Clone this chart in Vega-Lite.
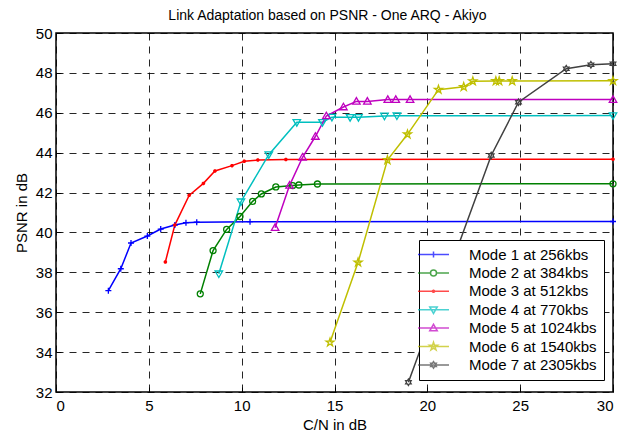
{
  "$schema": "https://vega.github.io/schema/vega-lite/v6.json",
  "width": 557,
  "height": 359,
  "autosize": {"type": "none"},
  "padding": {"left": 56, "top": 33, "right": 15, "bottom": 42},
  "background": "white",
  "title": {"text": "Link Adaptation based on PSNR - One ARQ - Akiyo", "font": "Liberation Sans", "fontSize": 14, "fontWeight": "normal", "color": "#000", "offset": 3, "dx": -7},
  "config": {
    "view": {"stroke": "#000", "strokeWidth": 1.5},
    "axis": {"labelFont": "Liberation Sans", "titleFont": "Liberation Sans", "labelFontSize": 15, "titleFontSize": 15, "titleFontWeight": "normal", "labelColor": "#000", "titleColor": "#000", "grid": true, "gridColor": "#000", "gridDash": [7, 6], "gridWidth": 1, "gridOpacity": 0.85, "domain": false, "ticks": true, "tickSize": -5, "tickColor": "#000", "tickWidth": 1},
    "legend": {"labelFont": "Liberation Sans"}
  },
  "datasets": {
    "curves": [
      {"mode": "Mode 1 at 256kbs", "x": 2.82, "y": 37.08},
      {"mode": "Mode 1 at 256kbs", "x": 3.49, "y": 38.18},
      {"mode": "Mode 1 at 256kbs", "x": 4.04, "y": 39.47},
      {"mode": "Mode 1 at 256kbs", "x": 4.92, "y": 39.82},
      {"mode": "Mode 1 at 256kbs", "x": 5.64, "y": 40.17},
      {"mode": "Mode 1 at 256kbs", "x": 6.40, "y": 40.37},
      {"mode": "Mode 1 at 256kbs", "x": 7.00, "y": 40.49},
      {"mode": "Mode 1 at 256kbs", "x": 7.58, "y": 40.51},
      {"mode": "Mode 1 at 256kbs", "x": 10.45, "y": 40.54},
      {"mode": "Mode 1 at 256kbs", "x": 30, "y": 40.55},
      {"mode": "Mode 2 at 384kbs", "x": 7.77, "y": 36.92},
      {"mode": "Mode 2 at 384kbs", "x": 8.46, "y": 39.09},
      {"mode": "Mode 2 at 384kbs", "x": 9.19, "y": 40.15},
      {"mode": "Mode 2 at 384kbs", "x": 9.91, "y": 40.80},
      {"mode": "Mode 2 at 384kbs", "x": 10.59, "y": 41.56},
      {"mode": "Mode 2 at 384kbs", "x": 11.06, "y": 41.93},
      {"mode": "Mode 2 at 384kbs", "x": 11.84, "y": 42.28},
      {"mode": "Mode 2 at 384kbs", "x": 12.75, "y": 42.35},
      {"mode": "Mode 2 at 384kbs", "x": 13.08, "y": 42.38},
      {"mode": "Mode 2 at 384kbs", "x": 14.08, "y": 42.43},
      {"mode": "Mode 2 at 384kbs", "x": 30, "y": 42.44},
      {"mode": "Mode 3 at 512kbs", "x": 5.89, "y": 38.52},
      {"mode": "Mode 3 at 512kbs", "x": 6.40, "y": 40.37},
      {"mode": "Mode 3 at 512kbs", "x": 7.17, "y": 41.86},
      {"mode": "Mode 3 at 512kbs", "x": 7.94, "y": 42.46},
      {"mode": "Mode 3 at 512kbs", "x": 8.56, "y": 43.08},
      {"mode": "Mode 3 at 512kbs", "x": 9.48, "y": 43.35},
      {"mode": "Mode 3 at 512kbs", "x": 10.14, "y": 43.57},
      {"mode": "Mode 3 at 512kbs", "x": 10.87, "y": 43.63},
      {"mode": "Mode 3 at 512kbs", "x": 12.38, "y": 43.66},
      {"mode": "Mode 3 at 512kbs", "x": 30, "y": 43.67},
      {"mode": "Mode 4 at 770kbs", "x": 8.77, "y": 37.93},
      {"mode": "Mode 4 at 770kbs", "x": 9.96, "y": 41.54},
      {"mode": "Mode 4 at 770kbs", "x": 11.46, "y": 43.90},
      {"mode": "Mode 4 at 770kbs", "x": 12.97, "y": 45.52},
      {"mode": "Mode 4 at 770kbs", "x": 14.35, "y": 45.52},
      {"mode": "Mode 4 at 770kbs", "x": 14.86, "y": 45.78},
      {"mode": "Mode 4 at 770kbs", "x": 15.84, "y": 45.77},
      {"mode": "Mode 4 at 770kbs", "x": 16.29, "y": 45.77},
      {"mode": "Mode 4 at 770kbs", "x": 17.69, "y": 45.84},
      {"mode": "Mode 4 at 770kbs", "x": 18.36, "y": 45.85},
      {"mode": "Mode 4 at 770kbs", "x": 30, "y": 45.86},
      {"mode": "Mode 5 at 1024kbs", "x": 11.80, "y": 40.24},
      {"mode": "Mode 5 at 1024kbs", "x": 12.58, "y": 42.36},
      {"mode": "Mode 5 at 1024kbs", "x": 13.28, "y": 43.77},
      {"mode": "Mode 5 at 1024kbs", "x": 13.97, "y": 44.81},
      {"mode": "Mode 5 at 1024kbs", "x": 14.56, "y": 45.84},
      {"mode": "Mode 5 at 1024kbs", "x": 15.48, "y": 46.29},
      {"mode": "Mode 5 at 1024kbs", "x": 16.18, "y": 46.57},
      {"mode": "Mode 5 at 1024kbs", "x": 16.77, "y": 46.57},
      {"mode": "Mode 5 at 1024kbs", "x": 17.87, "y": 46.66},
      {"mode": "Mode 5 at 1024kbs", "x": 18.30, "y": 46.66},
      {"mode": "Mode 5 at 1024kbs", "x": 19.07, "y": 46.66},
      {"mode": "Mode 5 at 1024kbs", "x": 30, "y": 46.66},
      {"mode": "Mode 6 at 1540kbs", "x": 14.76, "y": 34.49},
      {"mode": "Mode 6 at 1540kbs", "x": 16.27, "y": 38.50},
      {"mode": "Mode 6 at 1540kbs", "x": 17.85, "y": 43.63},
      {"mode": "Mode 6 at 1540kbs", "x": 18.93, "y": 44.92},
      {"mode": "Mode 6 at 1540kbs", "x": 20.60, "y": 47.16},
      {"mode": "Mode 6 at 1540kbs", "x": 21.96, "y": 47.30},
      {"mode": "Mode 6 at 1540kbs", "x": 22.45, "y": 47.58},
      {"mode": "Mode 6 at 1540kbs", "x": 23.69, "y": 47.59},
      {"mode": "Mode 6 at 1540kbs", "x": 23.87, "y": 47.59},
      {"mode": "Mode 6 at 1540kbs", "x": 24.57, "y": 47.59},
      {"mode": "Mode 6 at 1540kbs", "x": 30, "y": 47.60},
      {"mode": "Mode 7 at 2305kbs", "x": 18.98, "y": 32.49},
      {"mode": "Mode 7 at 2305kbs", "x": 23.44, "y": 43.86},
      {"mode": "Mode 7 at 2305kbs", "x": 24.91, "y": 46.53},
      {"mode": "Mode 7 at 2305kbs", "x": 27.48, "y": 48.21},
      {"mode": "Mode 7 at 2305kbs", "x": 28.81, "y": 48.41},
      {"mode": "Mode 7 at 2305kbs", "x": 30, "y": 48.46}
    ]
  },
  "data": {"name": "curves"},
  "encoding": {
    "x": {"field": "x", "type": "quantitative", "scale": {"domain": [0, 30], "nice": false, "zero": false}, "axis": {"values": [0, 5, 10, 15, 20, 25, 30], "title": "C/N in dB", "labelPadding": 11, "titlePadding": 4}},
    "y": {"field": "y", "type": "quantitative", "scale": {"domain": [32, 50], "nice": false, "zero": false}, "axis": {"values": [32, 34, 36, 38, 40, 42, 44, 46, 48, 50], "title": "PSNR in dB", "labelPadding": 9, "titlePadding": 6}}
  },
  "layer": [
    {
      "mark": {"type": "line", "strokeWidth": 1.5, "clip": false},
      "encoding": {
        "color": {"field": "mode", "type": "nominal", "legend": null,
          "scale": {"domain": ["Mode 1 at 256kbs", "Mode 2 at 384kbs", "Mode 3 at 512kbs", "Mode 4 at 770kbs", "Mode 5 at 1024kbs", "Mode 6 at 1540kbs", "Mode 7 at 2305kbs"],
                    "range": ["#0000ff", "#008000", "#ff0000", "#00bfbf", "#bf00bf", "#bfbf00", "#404040"]}}
      }
    },
    {
      "mark": {"type": "point", "filled": false, "size": 100, "strokeWidth": 1.3, "opacity": 1},
      "encoding": {
        "color": {"field": "mode", "type": "nominal", "legend": null,
          "scale": {"domain": ["Mode 1 at 256kbs", "Mode 2 at 384kbs", "Mode 3 at 512kbs", "Mode 4 at 770kbs", "Mode 5 at 1024kbs", "Mode 6 at 1540kbs", "Mode 7 at 2305kbs"],
                    "range": ["#0000ff", "#008000", "#ff0000", "#00bfbf", "#bf00bf", "#bfbf00", "#404040"]}},
        "shape": {"field": "mode", "type": "nominal", "legend": null,
          "scale": {"domain": ["Mode 1 at 256kbs", "Mode 2 at 384kbs", "Mode 3 at 512kbs", "Mode 4 at 770kbs", "Mode 5 at 1024kbs", "Mode 6 at 1540kbs", "Mode 7 at 2305kbs"],
                    "range": [
                      "M-0.6,0L0.6,0M0,-0.6L0,0.6",
                      "M0.6,0A0.6,0.6,0,1,1,-0.6,0A0.6,0.6,0,1,1,0.6,0Z",
                      "M-0.35,0L0.35,0M0,-0.35L0,0.35M-0.25,-0.25L0.25,0.25M-0.25,0.25L0.25,-0.25",
                      "M-0.75,-0.55L0.75,-0.55L0,0.75Z",
                      "M-0.75,0.55L0.75,0.55L0,-0.75Z",
                      "M0,-0.85L0.194,-0.267L0.808,-0.263L0.314,0.102L0.5,0.688L0,0.33L-0.5,0.688L-0.314,0.102L-0.808,-0.263L-0.194,-0.267Z",
                      "M0,-0.65L0.19,-0.329L0.563,-0.325L0.38,0L0.563,0.325L0.19,0.329L0,0.65L-0.19,0.329L-0.563,0.325L-0.38,0L-0.563,-0.325L-0.19,-0.329Z"
                    ]}}
      }
    },
    {
      "transform": [{"filter": "datum.x > 1000"}],
      "mark": {"type": "point", "filled": false, "size": 100, "strokeWidth": 1.5},
      "encoding": {
        "color": {"field": "mode", "type": "nominal",
          "scale": {"domain": ["Mode 1 at 256kbs", "Mode 2 at 384kbs", "Mode 3 at 512kbs", "Mode 4 at 770kbs", "Mode 5 at 1024kbs", "Mode 6 at 1540kbs", "Mode 7 at 2305kbs"],
                    "range": ["#0000ff", "#008000", "#ff0000", "#00bfbf", "#bf00bf", "#bfbf00", "#404040"]},
          "legend": {"title": null, "orient": "none", "legendX": 363, "legendY": 207, "padding": 7, "strokeColor": "#000", "fillColor": "#fff", "labelFontSize": 15, "labelColor": "#000", "symbolSize": 100, "symbolStrokeWidth": 1.5, "labelOffset": 28, "rowPadding": 2.4, "cornerRadius": 0}},
        "shape": {"field": "mode", "type": "nominal",
          "scale": {"domain": ["Mode 1 at 256kbs", "Mode 2 at 384kbs", "Mode 3 at 512kbs", "Mode 4 at 770kbs", "Mode 5 at 1024kbs", "Mode 6 at 1540kbs", "Mode 7 at 2305kbs"],
                    "range": [
                      "M-3.1,0L3.1,0M-0.6,0L0.6,0M0,-0.6L0,0.6",
                      "M-3.1,0L-0.6,0M0.6,0L3.1,0M0.6,0A0.6,0.6,0,1,1,-0.6,0A0.6,0.6,0,1,1,0.6,0Z",
                      "M-3.1,0L3.1,0M-0.35,0L0.35,0M0,-0.35L0,0.35M-0.25,-0.25L0.25,0.25M-0.25,0.25L0.25,-0.25",
                      "M-3.1,0L3.1,0M-0.75,-0.55L0.75,-0.55L0,0.75Z",
                      "M-3.1,0L3.1,0M-0.75,0.55L0.75,0.55L0,-0.75Z",
                      "M-3.1,0L3.1,0M0,-0.85L0.194,-0.267L0.808,-0.263L0.314,0.102L0.5,0.688L0,0.33L-0.5,0.688L-0.314,0.102L-0.808,-0.263L-0.194,-0.267Z",
                      "M-3.1,0L3.1,0M0,-0.65L0.19,-0.329L0.563,-0.325L0.38,0L0.563,0.325L0.19,0.329L0,0.65L-0.19,0.329L-0.563,0.325L-0.38,0L-0.563,-0.325L-0.19,-0.329Z"
                    ]},
          "legend": {"title": null, "orient": "none", "legendX": 363, "legendY": 207, "padding": 7, "strokeColor": "#000", "fillColor": "#fff", "labelFontSize": 15, "labelColor": "#000", "symbolSize": 100, "symbolStrokeWidth": 1.5, "labelOffset": 28, "rowPadding": 2.4, "cornerRadius": 0}}
      }
    }
  ],
  "resolve": {"scale": {"color": "independent", "shape": "independent"}}
}
